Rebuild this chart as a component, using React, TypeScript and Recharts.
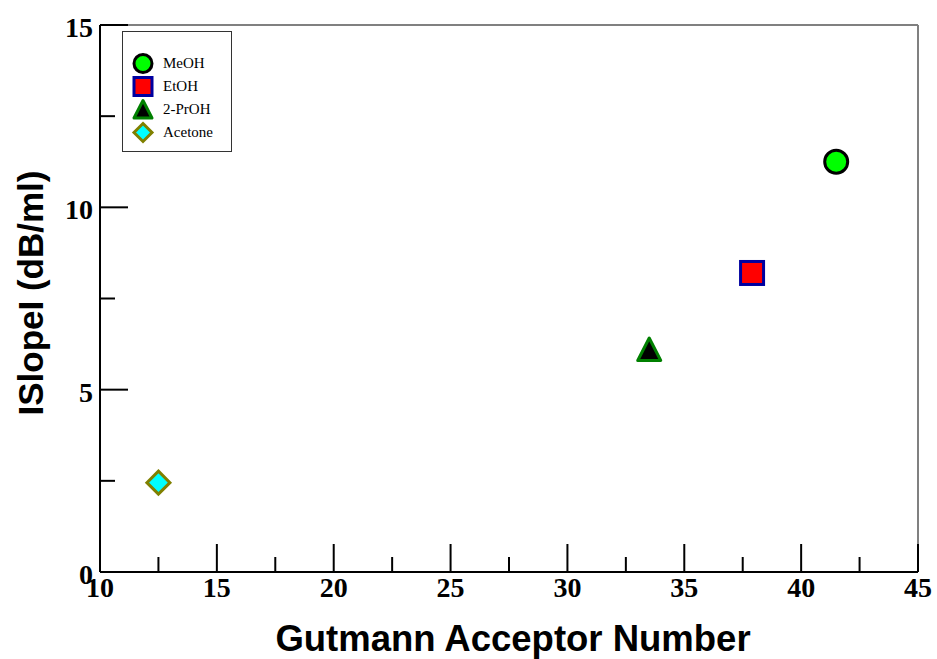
import React from 'react';
import { ScatterChart, Scatter, XAxis, YAxis, ReferenceLine, Label } from 'recharts';

const NAMES = ['MeOH', 'EtOH', '2-PrOH', 'Acetone'];
const ACCEPTOR = [41.5, 37.9, 33.5, 12.5];
const SLOPE = [11.25, 8.2, 6.1, 2.45];
const X_TICKS = [10, 12.5, 15, 17.5, 20, 22.5, 25, 27.5, 30, 32.5, 35, 37.5, 40, 42.5, 45];
const Y_TICKS = [0, 2.5, 5, 7.5, 10, 12.5, 15];

const KINDS = ['circle', 'square', 'triangle', 'diamond'];
const FILLS = ['#00ff00', '#ff0000', '#000000', '#00ffff'];
const STROKES = ['#000000', '#0000a0', '#008000', '#808000'];

const TICK_FONT = '"Liberation Serif", "Times New Roman", serif';
const TITLE_FONT = '"Liberation Sans", Arial, sans-serif';

const Marker = ({ kind, cx, cy, fill, stroke, size }: any) => {
  const h = size / 2;
  if (kind === 'circle') {
    return <circle cx={cx} cy={cy} r={h} fill={fill} stroke={stroke} strokeWidth={3} />;
  }
  if (kind === 'square') {
    return <rect x={cx - h} y={cy - h} width={size} height={size} fill={fill} stroke={stroke} strokeWidth={3} />;
  }
  if (kind === 'triangle') {
    const pts = `${cx},${cy - h} ${cx + h},${cy + h * 0.95} ${cx - h},${cy + h * 0.95}`;
    return <polygon points={pts} fill={fill} stroke={stroke} strokeWidth={3} strokeLinejoin="round" />;
  }
  const pts = `${cx},${cy - h} ${cx + h},${cy} ${cx},${cy + h} ${cx - h},${cy}`;
  return <polygon points={pts} fill={fill} stroke={stroke} strokeWidth={3} />;
};

const XTick = ({ x, y, payload }: any) => {
  const major = payload.value % 5 === 0;
  return (
    <g>
      <line x1={x} y1={y} x2={x} y2={y - (major ? 28 : 15)} stroke="#000" strokeWidth={2} />
      {major && (
        <text x={x} y={y + 25} textAnchor="middle" fontFamily={TICK_FONT} fontWeight="bold" fontSize={28} fill="#000">
          {payload.value}
        </text>
      )}
    </g>
  );
};

const YTick = ({ x, y, payload }: any) => {
  const major = payload.value % 5 === 0;
  return (
    <g>
      <line x1={x} y1={y} x2={x + (major ? 28 : 15)} y2={y} stroke="#000" strokeWidth={2} />
      {major && (
        <text x={x - 7} y={y + 12} textAnchor="end" fontFamily={TICK_FONT} fontWeight="bold" fontSize={28} fill="#000">
          {payload.value}
        </text>
      )}
    </g>
  );
};

const LegendBox = () => (
  <div
    style={{
      position: 'absolute',
      left: 122,
      top: 31,
      width: 110,
      height: 121,
      border: '1px solid #333',
      background: '#fff',
      boxSizing: 'border-box',
      paddingTop: 20,
      fontFamily: TICK_FONT,
      fontSize: 15,
    }}
  >
    {NAMES.map((n, i) => (
      <div key={n} style={{ display: 'flex', alignItems: 'center', height: 23 }}>
        <svg width={40} height={23}>
          <Marker kind={KINDS[i]} cx={20} cy={11.5} size={18} fill={FILLS[i]} stroke={STROKES[i]} />
        </svg>
        <span>{n}</span>
      </div>
    ))}
  </div>
);

export default function App() {
  return (
    <div style={{ position: 'absolute', left: 0, top: 0, width: 937, height: 659, background: '#fff' }}>
      <ScatterChart width={937} height={659} margin={{ top: 25, right: 19, left: 0, bottom: 0 }}>
        <XAxis
          type="number"
          dataKey="x"
          domain={[10, 45]}
          ticks={X_TICKS}
          interval={0}
          allowDataOverflow
          height={87}
          axisLine={{ stroke: '#000', strokeWidth: 2 }}
          tickLine={false}
          tickSize={0}
          tickMargin={0}
          tick={<XTick />}
        >
          <Label
            content={() => (
              <text x={513} y={651} textAnchor="middle" fontFamily={TITLE_FONT} fontWeight="bold" fontSize={36.5} fill="#000">
                Gutmann Acceptor Number
              </text>
            )}
          />
        </XAxis>
        <YAxis
          type="number"
          dataKey="y"
          domain={[0, 15]}
          ticks={Y_TICKS}
          interval={0}
          allowDataOverflow
          width={100}
          axisLine={{ stroke: '#000', strokeWidth: 2 }}
          tickLine={false}
          tickSize={0}
          tickMargin={0}
          tick={<YTick />}
        >
          <Label
            content={() => (
              <text
                x={43}
                y={293}
                transform="rotate(-90 43 293)"
                textAnchor="middle"
                fontFamily={TITLE_FONT}
                fontWeight="bold"
                fontSize={35}
                fill="#000"
              >
                ISlopeI (dB/ml)
              </text>
            )}
          />
        </YAxis>
        <ReferenceLine y={15} stroke="#808080" strokeWidth={2} />
        <ReferenceLine x={45} stroke="#808080" strokeWidth={2} />
        {NAMES.map((n, i) => (
          <Scatter
            key={n}
            name={n}
            data={[{ x: ACCEPTOR[i], y: SLOPE[i] }]}
            isAnimationActive={false}
            shape={(p: any) => (
              <Marker kind={KINDS[i]} cx={p.cx} cy={p.cy} size={23} fill={FILLS[i]} stroke={STROKES[i]} />
            )}
          />
        ))}
      </ScatterChart>
      <LegendBox />
    </div>
  );
}
